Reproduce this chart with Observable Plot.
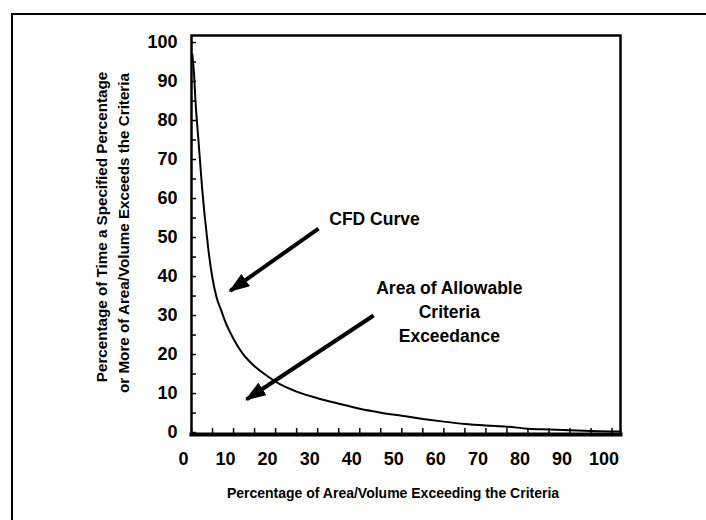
<!DOCTYPE html>
<html><head><meta charset="utf-8">
<script src="https://cdn.jsdelivr.net/npm/d3@7"></script>
<script src="https://cdn.jsdelivr.net/npm/@observablehq/plot@0.6"></script>
<style>
html,body{margin:0;padding:0;background:#fff;overflow:hidden;}
#wrap{position:relative;width:706px;height:520px;}
#border{position:absolute;left:11px;top:13px;width:800px;height:600px;border-top:2px solid #000;border-left:2px solid #000;z-index:2;}
#chart{position:absolute;left:0;top:0;z-index:1;}
</style></head><body><div id="wrap"><div id="border"></div><div id="chart"></div></div>
<script>
// CFD curve
const cfdX = [0.2, 0.6, 1, 1.5, 2, 2.5, 3, 3.5, 4, 5, 6, 7, 8, 10, 12, 15, 18, 21, 25, 30, 35, 40, 45, 50, 55, 60, 65, 70, 75, 80, 85, 90, 95, 100, 102];
const cfdY = [97, 92, 84, 77, 70, 63, 57, 52, 47, 39.5, 34.5, 31.5, 28.5, 24, 20.5, 17, 14.5, 12.4, 10.5, 8.8, 7.4, 6.1, 5.1, 4.3, 3.5, 2.8, 2.2, 1.8, 1.5, 1.0, 0.8, 0.6, 0.4, 0.3, 0.3];

const xTickValues = [0, 10, 20, 30, 40, 50, 60, 70, 80, 90, 100];
const yTickValues = [0, 10, 20, 30, 40, 50, 60, 70, 80, 90, 100];
const minorTickValues = [0, 5, 10, 15, 20, 25, 30, 35, 40, 45, 50, 55, 60, 65, 70, 75, 80, 85, 90, 95, 100];

const xTitle = ["Percentage of Area/Volume Exceeding the Criteria"];
const yTitleLine1 = ["Percentage of Time a Specified Percentage"];
const yTitleLine2 = ["or More of Area/Volume Exceeds the Criteria"];

const noteLabels = ["CFD Curve", "Area of Allowable\nCriteria\nExceedance"];
const noteX = [43.5, 61.3];
const noteY = [55.1, 31.3];

const arrowFromX = [30.2, 43.3];
const arrowFromY = [52.3, 30.0];
const arrowToX = [9.2, 13.1];
const arrowToY = [36.3, 8.5];

const W = 706, H = 520;
const mL = 191, mR = 86, mT = 35, mB = 86;
const plotW = W - mL - mR, plotH = H - mT - mB;
const font = "'Liberation Sans', Arial, Helvetica, sans-serif";

const curve = cfdX.map((x, i) => ({x, y: cfdY[i]}));
const notes = noteLabels.map((t, i) => ({t, x: noteX[i], y: noteY[i]}));
const arrows = arrowFromX.map((x1, i) => ({x1, y1: arrowFromY[i], x2: arrowToX[i], y2: arrowToY[i]}));

function triangle(color, context) {
  const doc = (context && context.document) || document;
  const ns = "http://www.w3.org/2000/svg";
  const m = doc.createElementNS(ns, "marker");
  m.setAttribute("viewBox", "-19 -7.5 21 15");
  m.setAttribute("markerWidth", 21);
  m.setAttribute("markerHeight", 15);
  m.setAttribute("markerUnits", "userSpaceOnUse");
  m.setAttribute("orient", "auto");
  m.setAttribute("refX", 0);
  m.setAttribute("refY", 0);
  const p = doc.createElementNS(ns, "path");
  p.setAttribute("d", "M2,0L-19,-7.5L-19,7.5Z");
  p.setAttribute("fill", "black");
  p.setAttribute("stroke", "none");
  m.appendChild(p);
  return m;
}

function arrowMarks(useMarker) {
  if (useMarker) {
    return [Plot.link(arrows, {x1: "x1", y1: "y1", x2: "x2", y2: "y2", stroke: "black", strokeWidth: 4, markerEnd: triangle})];
  }
  return [18, 13, 8].map(h => Plot.arrow(arrows, {x1: "x1", y1: "y1", x2: "x2", y2: "y2", stroke: "black", strokeWidth: 4, headLength: h, headAngle: 45}));
}

function build(useMarker) {
  return Plot.plot({
    width: W, height: H,
    marginLeft: mL, marginRight: mR, marginTop: mT, marginBottom: mB,
    style: {background: "transparent", fontFamily: font, color: "black"},
    x: {domain: [0, 102], label: null},
    y: {domain: [-0.5, 101.8], label: null},
    marks: [
      Plot.tickX(minorTickValues, {x: d => d, stroke: "black", strokeWidth: 1.5, insetTop: plotH - 6}),
      Plot.tickY(minorTickValues, {y: d => d, stroke: "black", strokeWidth: 1.5, insetRight: plotW - 5}),
      Plot.axisX({ticks: xTickValues, tickSize: 0, tickPadding: 18, dx: -8, fontSize: 18, fontWeight: "bold", label: null}),
      Plot.axisY({ticks: yTickValues, tickSize: 0, tickPadding: 14, fontSize: 18, fontWeight: "bold", label: null}),
      Plot.line(curve, {x: "x", y: "y", curve: "monotone-x", stroke: "black", strokeWidth: 2}),
      ...arrowMarks(useMarker),
      Plot.text(notes, {x: "x", y: "y", text: "t", fontSize: 17.5, fontWeight: "bold", lineHeight: 1.37, fill: "black"}),
      Plot.text(xTitle, {text: d => d, frameAnchor: "bottom", textAnchor: "middle", lineAnchor: "middle", dy: 59, dx: -13, fontSize: 14, fontWeight: "bold", fill: "black"}),
      Plot.text(yTitleLine1, {text: d => d, frameAnchor: "left", textAnchor: "middle", lineAnchor: "middle", rotate: -90, dx: -89, dy: -8, fontSize: 15.2, fontWeight: "bold", fill: "black"}),
      Plot.text(yTitleLine2, {text: d => d, frameAnchor: "left", textAnchor: "middle", lineAnchor: "middle", rotate: -90, dx: -67, dy: -2, fontSize: 15.2, fontWeight: "bold", fill: "black"}),
      Plot.frame({stroke: "black", strokeWidth: 2.5}),
      Plot.frame({anchor: "bottom", stroke: "black", strokeWidth: 4})
    ]
  });
}

let chart;
try { chart = build(true); } catch (e) { chart = build(false); }
document.getElementById("chart").appendChild(chart);
</script>
</body></html>
